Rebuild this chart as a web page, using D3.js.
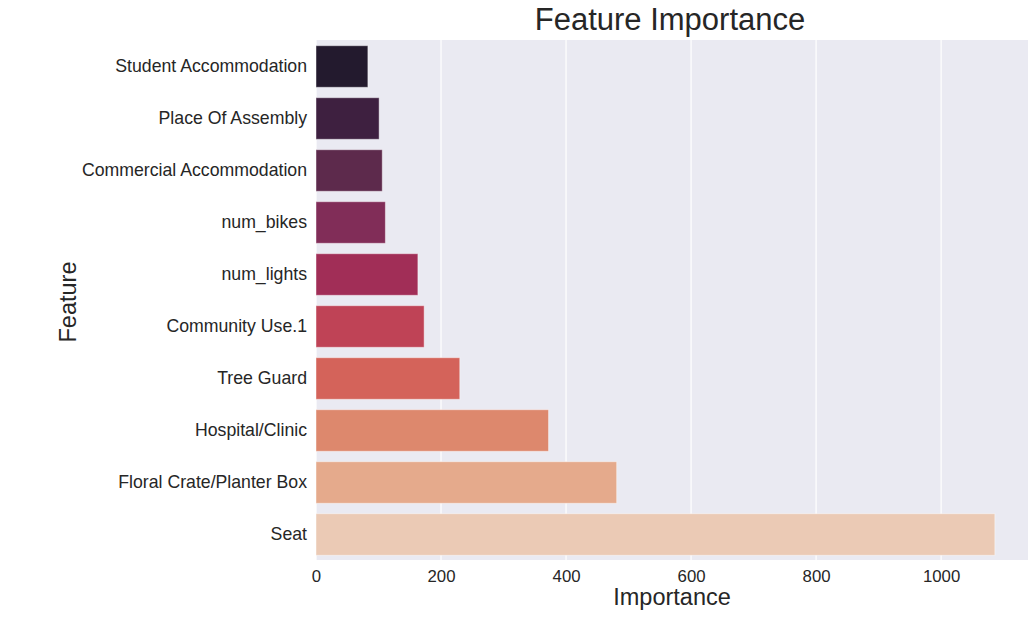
<!DOCTYPE html>
<html>
<head>
<meta charset="utf-8">
<script src="https://cdn.jsdelivr.net/npm/d3@7"></script>
<style>
  body { margin: 0; background: #fff; }
  svg { display: block; }
  text { font-family: "Liberation Sans", Arial, sans-serif; fill: #262626; }
</style>
</head>
<body>
<svg id="chart" width="1035" height="625"></svg>
<script>
const features = ["Student Accommodation", "Place Of Assembly", "Commercial Accommodation",
  "num_bikes", "num_lights", "Community Use.1", "Tree Guard", "Hospital/Clinic",
  "Floral Crate/Planter Box", "Seat"];
const importance = [83, 101, 106, 111, 163, 173, 230, 372, 481, 1086];
const colors = ["#231a2e", "#3e2040", "#5d2a4c", "#812d58", "#a12e57",
  "#bf4356", "#d4635a", "#dd886d", "#e5aa8c", "#ebcab5"];
const xTicks = [0, 200, 400, 600, 800, 1000];

const W = 1035, H = 625;
const m = { left: 316, right: 7, top: 40, bottom: 65 };
const svg = d3.select("#chart");

const x = d3.scaleLinear().domain([0, 1139]).range([m.left, W - m.right]);
const y = d3.scaleBand().domain(features).range([m.top, H - m.bottom]).paddingInner(0.2).paddingOuter(0.1);

svg.append("rect")
  .attr("x", x.range()[0]).attr("y", m.top)
  .attr("width", x.range()[1] - x.range()[0]).attr("height", H - m.bottom - m.top)
  .attr("fill", "#eaeaf2");

svg.append("g").selectAll("line").data(xTicks).join("line")
  .attr("x1", d => x(d)).attr("x2", d => x(d))
  .attr("y1", m.top).attr("y2", H - m.bottom)
  .attr("stroke", "#fff").attr("stroke-width", 1.2);

svg.append("g").selectAll("rect").data(features).join("rect")
  .attr("x", x(0))
  .attr("y", d => y(d) + 0.5)
  .attr("width", (d, i) => x(importance[i]) - x(0))
  .attr("height", y.bandwidth())
  .attr("fill", (d, i) => colors[i])
  .attr("stroke", "rgba(255,255,255,0.45)")
  .attr("stroke-width", 1);

const xAxis = d3.axisBottom(x).tickValues(xTicks).tickFormat(d3.format("d")).tickSize(0).tickPadding(10);
const gx = svg.append("g").attr("transform", `translate(0,${H - m.bottom})`).call(xAxis);
gx.select(".domain").remove();
gx.selectAll("text").attr("font-size", "16.8px").attr("fill", "#262626")
  .attr("font-family", "Liberation Sans, Arial, sans-serif");

const yAxis = d3.axisLeft(y).tickSize(0).tickPadding(9);
const gy = svg.append("g").attr("transform", `translate(${m.left},0.5)`).call(yAxis);
gy.select(".domain").remove();
gy.selectAll("text").attr("font-size", "17.7px").attr("fill", "#262626")
  .attr("font-family", "Liberation Sans, Arial, sans-serif");

svg.append("text")
  .attr("x", (x.range()[0] + x.range()[1]) / 2 - 2).attr("y", 29.5)
  .attr("text-anchor", "middle").attr("font-size", "31px")
  .text("Feature Importance");

svg.append("text")
  .attr("x", (x.range()[0] + x.range()[1]) / 2).attr("y", 605)
  .attr("text-anchor", "middle").attr("font-size", "23.5px")
  .text("Importance");

svg.append("text")
  .attr("transform", `translate(75.5,${(m.top + H - m.bottom) / 2 + 2}) rotate(-90)`)
  .attr("text-anchor", "middle").attr("font-size", "23.5px")
  .text("Feature");
</script>
</body>
</html>
